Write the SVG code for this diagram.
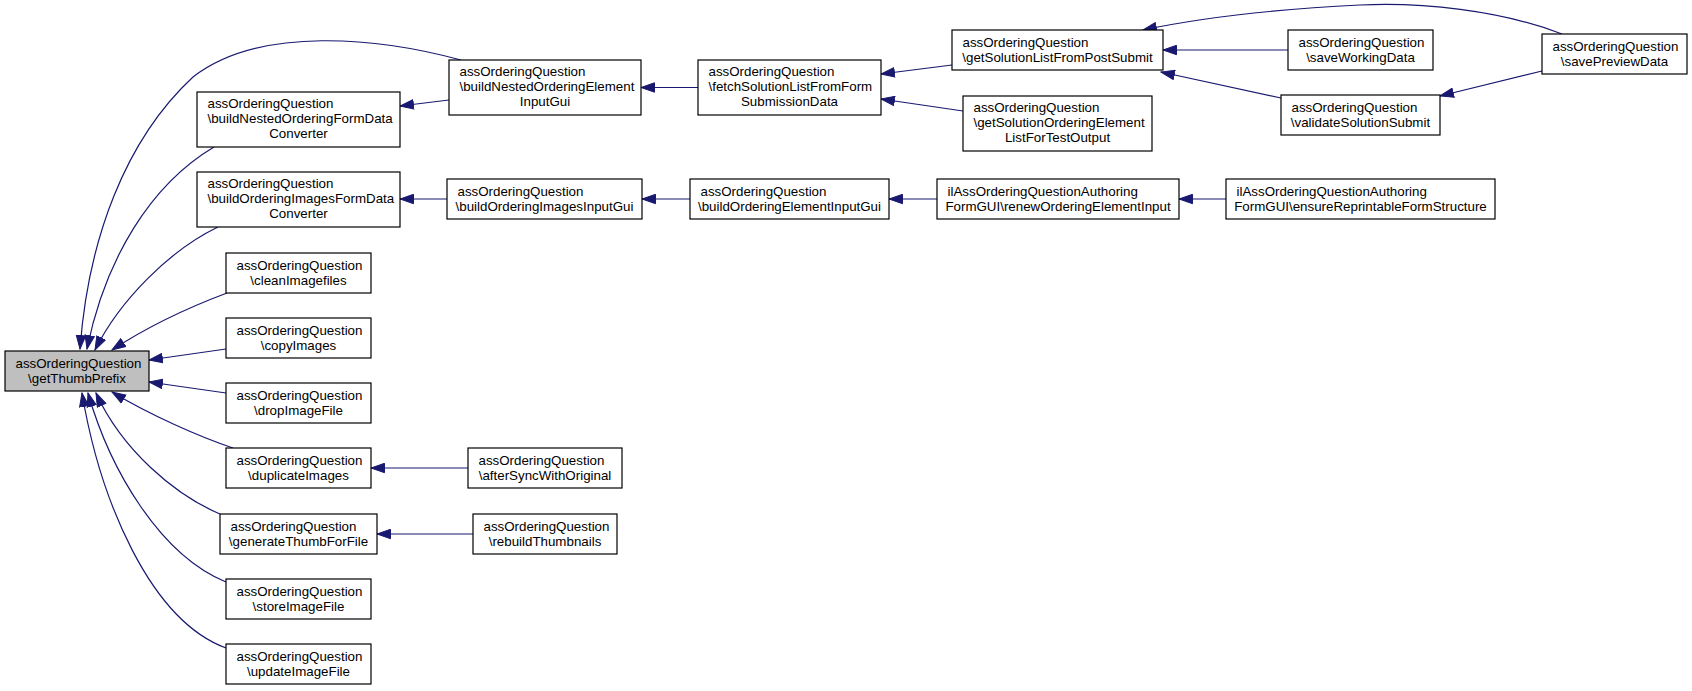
<svg xmlns="http://www.w3.org/2000/svg" width="1692" height="691" viewBox="0 0 1692 691">
<style>
.n rect{fill:#ffffff;stroke:#000000;stroke-width:1.2}
.n.hl rect{fill:#bfbfbf}
.n text{font-family:"Liberation Sans",Arial,Helvetica,sans-serif;font-size:13.33px;fill:#000000}
.l{text-anchor:start}
.c{text-anchor:middle}
#edges path{fill:none;stroke:#191970;stroke-width:1.2;marker-end:url(#arr)}
</style>
<defs>
<marker id="arr" markerUnits="userSpaceOnUse" markerWidth="15" markerHeight="11" viewBox="0 0 15 11" refX="14" refY="5.5" orient="auto">
<path d="M0.5,0.8 L14,5.5 L0.5,10.2 z" fill="#191970" stroke="#191970" stroke-width="1"/>
</marker>
</defs>
<rect x="0" y="0" width="1692" height="691" fill="#ffffff"/>
<g id="edges">
<path d="M461,60 C380,38 260,25 193,77 C125,140 88,240 80,349"/>
<path d="M214,147 C150,185 105,260 87,349"/>
<path d="M218,227 C170,250 120,300 95,350"/>
<path d="M227,293 C195,305 150,325 112,350"/>
<path d="M226,349 L149,360"/>
<path d="M226,393 L149,382"/>
<path d="M233,448 C200,437 150,415 112,392"/>
<path d="M220,514 C175,495 122,450 96,393"/>
<path d="M226,582 C160,555 110,470 88,393"/>
<path d="M226,648 C150,620 100,500 82,393"/>
<path d="M449,100 L400,106"/>
<path d="M447,199 L400,199"/>
<path d="M698,87.5 L641,87.5"/>
<path d="M690,199 L642,199"/>
<path d="M952,65 L881,74"/>
<path d="M963,111 L881,99"/>
<path d="M937,199 L889,199"/>
<path d="M1226,199 L1179,199"/>
<path d="M1288,50 L1163,50"/>
<path d="M1281,98 L1161,72"/>
<path d="M1562,34 C1500,10 1420,2 1360,5 C1280,9 1200,18 1143,30"/>
<path d="M1542,71 L1440,96"/>
<path d="M468,468 L371,468"/>
<path d="M473,534 L377,534"/>
</g>
<g id="getThumbPrefix" class="n hl"><rect x="5" y="351" width="144" height="40"/><text class="l" x="15.5" y="367.5">assOrderingQuestion</text><text class="c" x="77" y="382.5">\getThumbPrefix</text></g>
<g id="buildNestedOrderingElementInputGui" class="n"><rect x="449" y="60" width="192" height="55"/><text class="l" x="459.5" y="76">assOrderingQuestion</text><text class="l" x="459.5" y="91">\buildNestedOrderingElement</text><text class="c" x="545" y="106">InputGui</text></g>
<g id="fetchSolutionListFromFormSubmissionData" class="n"><rect x="698" y="60" width="183" height="55"/><text class="l" x="708.5" y="76">assOrderingQuestion</text><text class="l" x="708.5" y="91">\fetchSolutionListFromForm</text><text class="c" x="789.5" y="106">SubmissionData</text></g>
<g id="getSolutionListFromPostSubmit" class="n"><rect x="952" y="30" width="211" height="40"/><text class="l" x="962.5" y="46.5">assOrderingQuestion</text><text class="c" x="1057.5" y="61.5">\getSolutionListFromPostSubmit</text></g>
<g id="saveWorkingData" class="n"><rect x="1288" y="30" width="145" height="40"/><text class="l" x="1298.5" y="46.5">assOrderingQuestion</text><text class="c" x="1360.5" y="61.5">\saveWorkingData</text></g>
<g id="savePreviewData" class="n"><rect x="1542" y="34" width="145" height="40"/><text class="l" x="1552.5" y="50.5">assOrderingQuestion</text><text class="c" x="1614.5" y="65.5">\savePreviewData</text></g>
<g id="validateSolutionSubmit" class="n"><rect x="1281" y="95" width="159" height="40"/><text class="l" x="1291.5" y="111.5">assOrderingQuestion</text><text class="c" x="1360.5" y="126.5">\validateSolutionSubmit</text></g>
<g id="getSolutionOrderingElementListForTestOutput" class="n"><rect x="963" y="96" width="189" height="55"/><text class="l" x="973.5" y="112">assOrderingQuestion</text><text class="l" x="973.5" y="127">\getSolutionOrderingElement</text><text class="c" x="1057.5" y="142">ListForTestOutput</text></g>
<g id="buildNestedOrderingFormDataConverter" class="n"><rect x="197" y="92" width="203" height="55"/><text class="l" x="207.5" y="108">assOrderingQuestion</text><text class="l" x="207.5" y="123">\buildNestedOrderingFormData</text><text class="c" x="298.5" y="138">Converter</text></g>
<g id="buildOrderingImagesFormDataConverter" class="n"><rect x="197" y="172" width="203" height="55"/><text class="l" x="207.5" y="188">assOrderingQuestion</text><text class="l" x="207.5" y="203">\buildOrderingImagesFormData</text><text class="c" x="298.5" y="218">Converter</text></g>
<g id="buildOrderingImagesInputGui" class="n"><rect x="447" y="179" width="195" height="40"/><text class="l" x="457.5" y="195.5">assOrderingQuestion</text><text class="c" x="544.5" y="210.5">\buildOrderingImagesInputGui</text></g>
<g id="buildOrderingElementInputGui" class="n"><rect x="690" y="179" width="199" height="40"/><text class="l" x="700.5" y="195.5">assOrderingQuestion</text><text class="c" x="789.5" y="210.5">\buildOrderingElementInputGui</text></g>
<g id="renewOrderingElementInput" class="n"><rect x="937" y="179" width="242" height="40"/><text class="l" x="947.5" y="195.5">ilAssOrderingQuestionAuthoring</text><text class="c" x="1058" y="210.5">FormGUI\renewOrderingElementInput</text></g>
<g id="ensureReprintableFormStructure" class="n"><rect x="1226" y="179" width="269" height="40"/><text class="l" x="1236.5" y="195.5">ilAssOrderingQuestionAuthoring</text><text class="c" x="1360.5" y="210.5">FormGUI\ensureReprintableFormStructure</text></g>
<g id="cleanImagefiles" class="n"><rect x="226" y="253" width="145" height="40"/><text class="l" x="236.5" y="269.5">assOrderingQuestion</text><text class="c" x="298.5" y="284.5">\cleanImagefiles</text></g>
<g id="copyImages" class="n"><rect x="226" y="318" width="145" height="40"/><text class="l" x="236.5" y="334.5">assOrderingQuestion</text><text class="c" x="298.5" y="349.5">\copyImages</text></g>
<g id="dropImageFile" class="n"><rect x="226" y="383" width="145" height="40"/><text class="l" x="236.5" y="399.5">assOrderingQuestion</text><text class="c" x="298.5" y="414.5">\dropImageFile</text></g>
<g id="duplicateImages" class="n"><rect x="226" y="448" width="145" height="40"/><text class="l" x="236.5" y="464.5">assOrderingQuestion</text><text class="c" x="298.5" y="479.5">\duplicateImages</text></g>
<g id="afterSyncWithOriginal" class="n"><rect x="468" y="448" width="154" height="40"/><text class="l" x="478.5" y="464.5">assOrderingQuestion</text><text class="c" x="545" y="479.5">\afterSyncWithOriginal</text></g>
<g id="generateThumbForFile" class="n"><rect x="220" y="514" width="157" height="40"/><text class="l" x="230.5" y="530.5">assOrderingQuestion</text><text class="c" x="298.5" y="545.5">\generateThumbForFile</text></g>
<g id="rebuildThumbnails" class="n"><rect x="473" y="514" width="144" height="40"/><text class="l" x="483.5" y="530.5">assOrderingQuestion</text><text class="c" x="545" y="545.5">\rebuildThumbnails</text></g>
<g id="storeImageFile" class="n"><rect x="226" y="579" width="145" height="40"/><text class="l" x="236.5" y="595.5">assOrderingQuestion</text><text class="c" x="298.5" y="610.5">\storeImageFile</text></g>
<g id="updateImageFile" class="n"><rect x="226" y="644" width="145" height="40"/><text class="l" x="236.5" y="660.5">assOrderingQuestion</text><text class="c" x="298.5" y="675.5">\updateImageFile</text></g>
</svg>
